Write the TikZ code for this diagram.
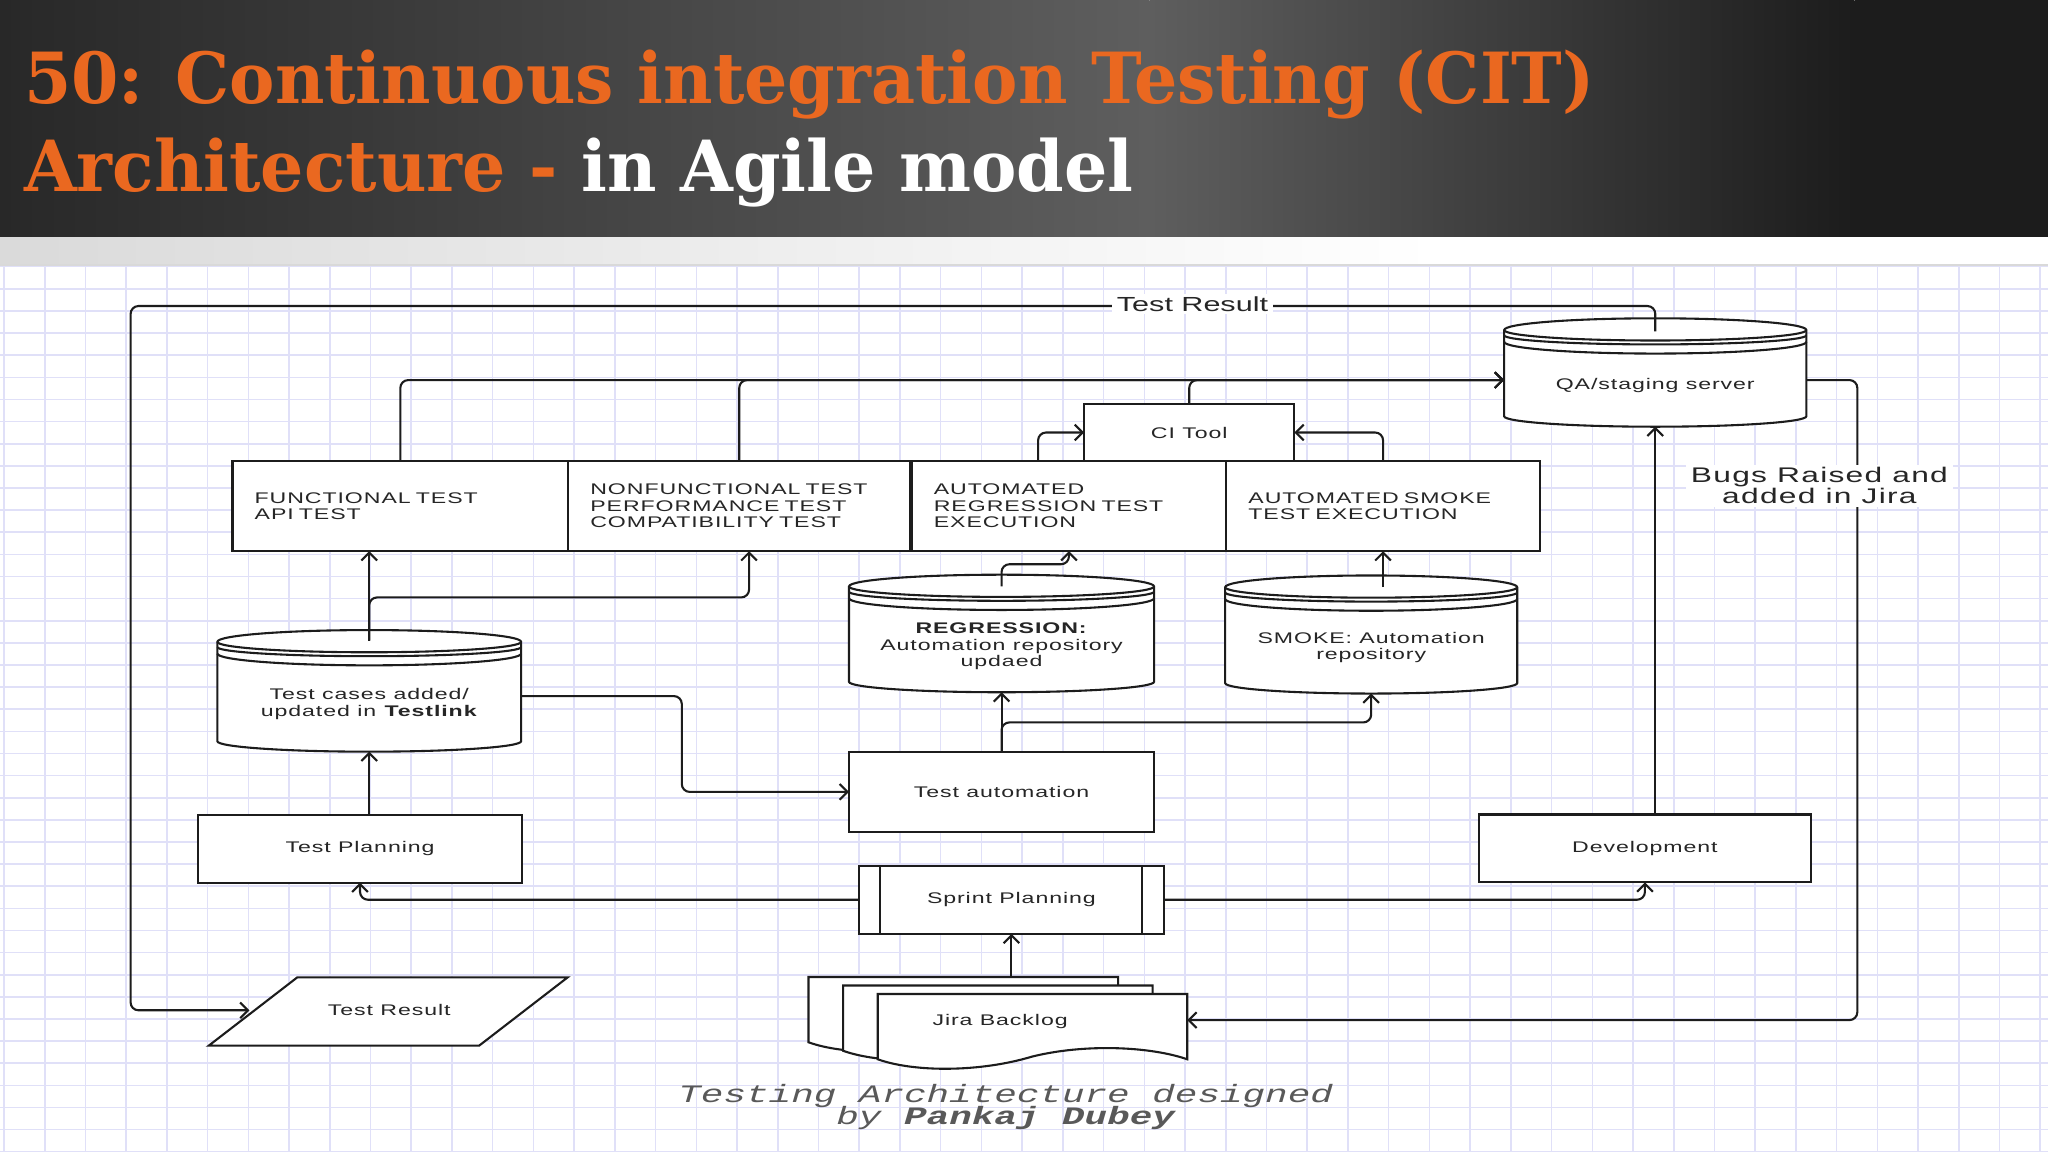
\documentclass[tikz,border=0pt]{standalone}
\usepackage{fontspec}
\setmainfont{Liberation Sans}
\newfontfamily\titlefont[FakeStretch=0.965]{DejaVu Serif}
\newfontfamily\dfont[FakeStretch=1.5,LetterSpace=6]{Liberation Sans}
\newfontfamily\lfont[FakeStretch=1.5]{Liberation Sans}
\newfontfamily\capfont[FakeStretch=1.5]{Liberation Mono}
\usetikzlibrary{arrows.meta}
\definecolor{orng}{RGB}{234,104,32}
\definecolor{gridc}{RGB}{224,224,248}
\definecolor{ink}{RGB}{28,28,28}
\definecolor{tba}{RGB}{40,40,40}
\definecolor{tbb}{RGB}{94,94,94}
\definecolor{tbc}{RGB}{28,28,28}
\definecolor{strip}{RGB}{218,218,218}

\tikzset{
  ln/.style={draw=ink, line width=0.8pt},
  conn/.style={ln, rounded corners=3pt},
  arr/.style={conn, -{Straight Barb[length=3pt,width=6pt]}},
  gridl/.style={draw=gridc, line width=0.6pt},
  tx/.style={inner sep=0pt, outer sep=0pt, align=center, text=black!85,
    font=\dfont\fontsize{5.9}{6.3}\selectfont},
  box/.style={tx, draw=ink, line width=0.8pt, fill=white},
  lbox/.style={box, align=left, inner xsep=8.5pt, text width=#1},
  capline/.style={anchor=base, inner sep=0pt, text=black!65, font=\capfont\itshape\fontsize{9.6}{9.6}\selectfont},
  titleline/.style={anchor=base west, inner sep=0pt, text=orng, font=\titlefont\bfseries\fontsize{27}{27}\selectfont},
}

\newcommand\dnarc[4]{%
  \pgfmathsetmacro\arcM{(#1+#2)/2}%
  \pgfmathsetmacro\arcH{0.552*(#2-#1)/2}%
  \draw[ln] ({#1},{#3}) .. controls ({#1},{#3+0.552*(#4)}) and ({\arcM-\arcH},{#3+#4}) .. ({\arcM},{#3+#4}) .. controls ({\arcM+\arcH},{#3+#4}) and ({#2},{#3+0.552*(#4)}) .. ({#2},{#3});}

\newcommand\cyl[6]{%
  \pgfmathsetmacro\cyM{(#2+#4)/2}%
  \pgfmathsetmacro\cyH{0.552*(#4-#2)/2}%
  \draw[ln,fill=white] ({#2},{#3+9}) .. controls ({#2},{#3+4}) and ({\cyM-\cyH},{#3}) .. ({\cyM},{#3}) .. controls ({\cyM+\cyH},{#3}) and ({#4},{#3+4}) .. ({#4},{#3+9}) -- ({#4},{#5-8}) .. controls ({#4},{#5-3.6}) and ({\cyM+\cyH},{#5}) .. ({\cyM},{#5}) .. controls ({\cyM-\cyH},{#5}) and ({#2},{#5-3.6}) .. ({#2},{#5-8}) -- cycle;
  \dnarc{#2}{#4}{#3+9}{8}
  \dnarc{#2}{#4}{#3+13}{7}
  \dnarc{#2}{#4}{#3+18}{9}
  \node[tx, minimum width={(#4-#2)*0.5pt}, minimum height={(#5-#3-20)*0.5pt}] (#1) at ({\cyM},{(#3+20+#5)/2}) {#6};}

\newcommand\rbox[7][]{\node[box,#1,minimum width={(#5-#3)*0.5pt},minimum height={(#6-#4)*0.5pt}] (#2) at ({(#3+#5)/2},{(#4+#6)/2}) {#7};}

\begin{document}
\begin{tikzpicture}[x=0.5pt,y=-0.5pt]
\useasboundingbox (0,0) rectangle (1568,882);
% ---------- title bar ----------
\shade[left color=tba, right color=tbb] (0,0) rectangle (880,181.5);
\shade[left color=tbb, right color=tbc] (880,0) rectangle (1420,181.5);
\fill[tbc] (1420,0) rectangle (1568,181.5);
\shade[left color=strip, right color=white] (0,181.5) rectangle (1100,203);
\fill[white] (1100,181.5) rectangle (1568,203);
\fill[white] (0,203) rectangle (1568,882);
\draw[black!15, line width=0.6pt] (0,203) -- (1568,203);
\foreach \i in {0,...,50} \draw[gridl] ({3.06+31.18*\i},203.5) -- ({3.06+31.18*\i},882);
\foreach \j in {0,...,40} \draw[gridl] (0,{204.2+16.94*\j}) -- (1568,{204.2+16.94*\j});

\node[titleline] (title1) at (18,79) {50: Continuous integration Testing (CIT)};
\node[titleline] (title2) at (18,147) {Architecture - \textcolor{white}{in Agile model}};

% ---------- shapes ----------
\rbox[lbox=111.5pt]{func}{178}{353}{435}{422}{FUNCTIONAL TEST\\API TEST}
\rbox[lbox=114pt]{nf}{435}{353}{697}{422}{NONFUNCTIONAL TEST\\PERFORMANCE TEST\\COMPATIBILITY TEST}
\rbox[lbox=103.4pt]{areg}{698}{353}{938.8}{422}{AUTOMATED\\REGRESSION TEST\\EXECUTION}
\rbox[lbox=103.1pt]{asmk}{938.8}{353}{1179}{422}{AUTOMATED SMOKE\\TEST EXECUTION}
\rbox{ci}{830}{309.3}{991}{353}{CI Tool}
\rbox{ta}{650}{575.6}{883.6}{637}{Test automation}
\rbox{tp}{151.6}{624}{399.7}{675.8}{Test Planning}
\rbox{dev}{1132.2}{623.6}{1386.6}{675.6}{Development}
\rbox{sp}{657.7}{662.7}{891}{715}{Sprint Planning}
\draw[ln] ([xshift=8pt]sp.north west) -- ([xshift=8pt]sp.south west);
\draw[ln] ([xshift=-8.5pt]sp.north east) -- ([xshift=-8.5pt]sp.south east);

\cyl{qa}{1151.6}{243.7}{1383}{326.7}{QA/staging server}
\cyl{tc}{166.4}{482.4}{399}{575.5}{Test cases added/\\updated in \textbf{Testlink}}
\cyl{reg}{650}{440}{883.6}{530}{\textbf{REGRESSION:}\\Automation repository\\updaed}
\cyl{smk}{938}{440.6}{1161.6}{531}{SMOKE: Automation\\repository}

% Jira backlog (stacked documents)
\foreach \dx/\dy in {-53/-13,-26.5/-6.5,0/0}{
  \begin{scope}[shift={(\dx,\dy)}]
  \draw[ln,fill=white] (672,761) -- (909,761) -- (909,811) .. controls (880,801) and (830,799) .. (790,809) .. controls (750,821) and (700,821) .. (672,811) -- cycle;
  \end{scope}
}
\node[tx, minimum width={(909-619)*0.5pt}, minimum height={(811-748)*0.5pt}] (jira) at (764,779.5) {};
\node[tx] (jiratxt) at (765.7,782) {Jira Backlog};

% Test Result parallelogram
\draw[ln,fill=white] (227.6,748.3) -- (434.6,748.3) -- (366.8,800.6) -- (159.8,800.6) -- cycle;
\node[tx] (tr) at (298,773.5) {Test Result};
\coordinate (trin) at (191,773.5);
\coordinate (loopcorner) at (100,234.3);

% ---------- connectors ----------
\draw[arr] (func.north) |- ([yshift=2.1pt]qa.west);
\draw[arr] (nf.north) |- ([yshift=2.1pt]qa.west);
\draw[arr] (ci.north) |- ([yshift=2.1pt]qa.west);
\draw[arr] ([xshift=-11.8pt]areg.north) |- (ci.west);
\draw[arr] (asmk.north) |- (ci.east);
\draw[arr] ([yshift=6pt]tc.north) -- (tc.north |- func.south);
\draw[arr] ([yshift=6pt]tc.north) -- ++(0,-33) -| ([xshift=3.75pt]nf.south);
\draw[arr] (tc.south |- tp.north) -- (tc.south);
\draw[arr] ([yshift=3pt]tc.east) -- ++(123,0) |- (ta.west);
\draw[arr] (ta.north) -- (reg.south);
\draw[arr] (ta.north) -- ++(0,-22.5) -| (smk.south);
\draw[arr] ([yshift=5.5pt]reg.north) -- ++(0,-17) -| (areg.south);
\draw[arr] ([yshift=5.5pt]smk.north -| asmk.south) -- (asmk.south);
\draw[arr] (qa.south |- dev.north) -- (qa.south);
\draw[arr] (sp.west) -| (tp.south);
\draw[arr] (sp.east) -| (dev.south);
\draw[arr] (sp.south |- jira.north) -- (sp.south);
\draw[arr] ([yshift=2.1pt]qa.east) -- ++(39,0) |- ([yshift=-0.75pt]jira.east);
\draw[arr] ([yshift=5pt]qa.north) |- (loopcorner) |- (trin);

% ---------- labels ----------
\node[fill=white, inner xsep=2pt, inner ysep=1pt, text=black!85, font=\lfont\fontsize{7.8}{8}\selectfont] (trlabel) at (913,233) {Test Result};
\node[fill=white, inner xsep=2pt, inner ysep=1pt, align=center, text=black!85, font=\dfont\fontsize{8.1}{8}\selectfont] (bugs) at (1393,372) {Bugs Raised and\\added in Jira};
\node[capline] (caption1) at (770,844) {Testing Architecture designed};
\node[capline] (caption2) at (770,861) {by \textbf{Pankaj Dubey}};
\end{tikzpicture}
\end{document}
